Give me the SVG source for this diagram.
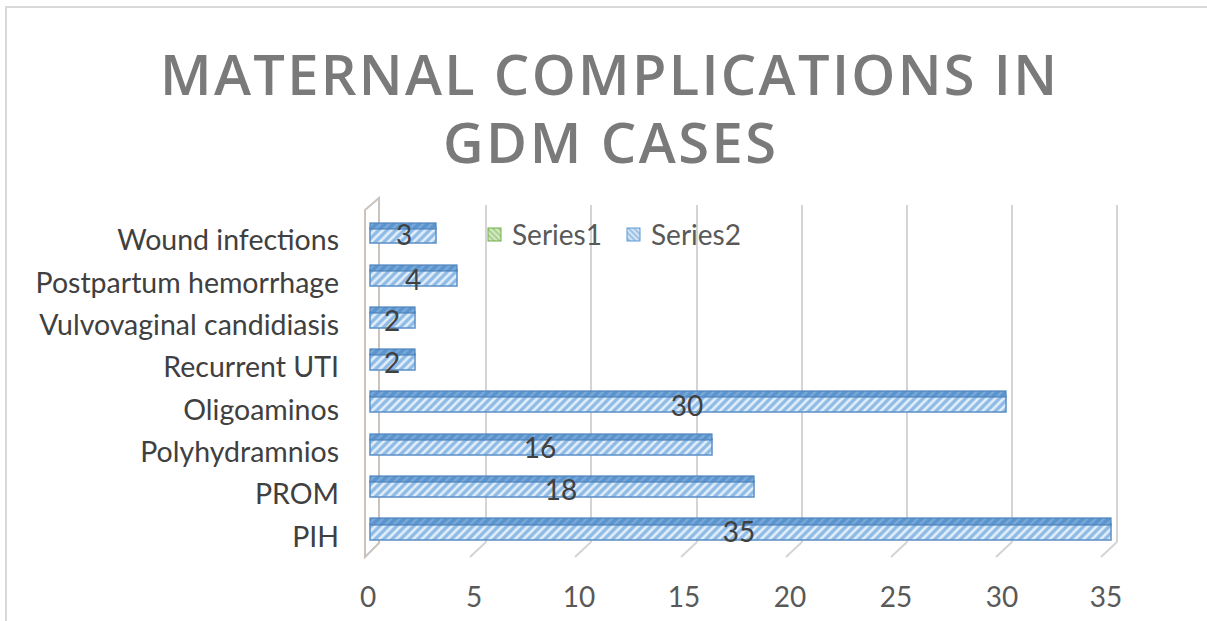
<svg xmlns="http://www.w3.org/2000/svg" width="1207" height="621" viewBox="0 0 1207 621">
<defs>
<pattern id="hatch" width="6" height="6" patternUnits="userSpaceOnUse" patternTransform="rotate(45)">
<rect width="6" height="6" fill="#8fbbe6"/>
<line x1="1.5" y1="0" x2="1.5" y2="6" stroke="#eaf3fb" stroke-width="2.4"/>
</pattern>
<pattern id="hatchTop" width="6" height="6" patternUnits="userSpaceOnUse" patternTransform="rotate(45)">
<rect width="6" height="6" fill="#5b93cc"/>
<line x1="1.5" y1="0" x2="1.5" y2="6" stroke="#7eaedc" stroke-width="2"/>
</pattern>
<pattern id="hatchG" width="4" height="4" patternUnits="userSpaceOnUse" patternTransform="rotate(-45)">
<rect width="4" height="4" fill="#a9d18e"/>
<line x1="1" y1="0" x2="1" y2="4" stroke="#e2f0d9" stroke-width="1.5"/>
</pattern>
<pattern id="hatchB" width="4" height="4" patternUnits="userSpaceOnUse" patternTransform="rotate(-45)">
<rect width="4" height="4" fill="#9dc3e6"/>
<line x1="1" y1="0" x2="1" y2="4" stroke="#e6f0fa" stroke-width="1.5"/>
</pattern>
</defs>
<style>
.title{font-family:"Open Sans","Liberation Sans",sans-serif;font-weight:600;font-size:56px;fill:#7a7a7a}
.cat{font-family:Lato,"Liberation Sans",sans-serif;font-size:28.5px;fill:#404040;text-anchor:end}
.ax{font-family:Lato,"Liberation Sans",sans-serif;font-size:28px;fill:#595959;text-anchor:middle}
.val{font-family:Lato,"Liberation Sans",sans-serif;font-size:28px;fill:#404040;text-anchor:middle}
.leg{font-family:Lato,"Liberation Sans",sans-serif;font-size:28px;fill:#595959}
.grid{stroke:#d4d4d4;stroke-width:2;fill:none}
.wall{stroke:#cbc4be;stroke-width:2;fill:none}
.bar{fill:url(#hatch);stroke:#5a8fc6;stroke-width:1.5}
.bartop{fill:url(#hatchTop);stroke:#4f84bd;stroke-width:1.2}
</style>
<rect width="1207" height="621" fill="#ffffff"/>
<path d="M6,621 V7 H1207" fill="none" stroke="#d9d9d9" stroke-width="2"/>

<g id="title">
<text class="title" x="160" y="95" textLength="897" lengthAdjust="spacing">MATERNAL COMPLICATIONS IN</text>
<text class="title" x="443" y="163" textLength="333" lengthAdjust="spacing">GDM CASES</text>
</g>

<g id="axes">
<g class="grid">
<line x1="486" y1="205" x2="486" y2="542"/>
<line x1="591" y1="205" x2="591" y2="542"/>
<line x1="697" y1="205" x2="697" y2="542"/>
<line x1="802" y1="205" x2="802" y2="542"/>
<line x1="907" y1="205" x2="907" y2="542"/>
<line x1="1012" y1="205" x2="1012" y2="542"/>
<line x1="1117" y1="205" x2="1117" y2="542"/>
<line x1="486" y1="542" x2="470" y2="557"/>
<line x1="591" y1="542" x2="575" y2="557"/>
<line x1="697" y1="542" x2="681" y2="557"/>
<line x1="802" y1="542" x2="786" y2="557"/>
<line x1="907" y1="542" x2="891" y2="557"/>
<line x1="1012" y1="542" x2="996" y2="557"/>
<line x1="1117" y1="542" x2="1101" y2="557"/>
</g>
<polygon class="wall" points="365,210 379,198 379,543 365,557"/>
<text class="ax" x="368" y="607">0</text>
<text class="ax" x="474" y="607">5</text>
<text class="ax" x="579" y="607">10</text>
<text class="ax" x="684" y="607">15</text>
<text class="ax" x="790" y="607">20</text>
<text class="ax" x="896" y="607">25</text>
<text class="ax" x="1002" y="607">30</text>
<text class="ax" x="1106" y="607">35</text>
</g>

<g id="legend">
<rect x="488" y="228" width="13" height="13" fill="url(#hatchG)" stroke="#70ad47" stroke-width="1"/>
<text class="leg" x="512" y="245">Series1</text>
<rect x="627" y="228" width="13" height="13" fill="url(#hatchB)" stroke="#5b9bd5" stroke-width="1"/>
<text class="leg" x="651" y="245">Series2</text>
</g>

<g id="wound-infections">
<text class="cat" x="339" y="250">Wound infections</text>
<rect class="bar" x="370" y="228" width="66" height="15"/>
<rect class="bartop" x="370" y="223" width="66" height="6"/>
<text class="val" x="404" y="245">3</text>
</g>
<g id="postpartum-hemorrhage">
<text class="cat" x="339" y="293">Postpartum hemorrhage</text>
<rect class="bar" x="370" y="270" width="87" height="16"/>
<rect class="bartop" x="370" y="265" width="87" height="6"/>
<text class="val" x="413" y="290">4</text>
</g>
<g id="vulvovaginal-candidiasis">
<text class="cat" x="339" y="335">Vulvovaginal candidiasis</text>
<rect class="bar" x="370" y="312" width="45" height="16"/>
<rect class="bartop" x="370" y="307" width="45" height="6"/>
<text class="val" x="392" y="331">2</text>
</g>
<g id="recurrent-uti">
<text class="cat" x="339" y="377">Recurrent UTI</text>
<rect class="bar" x="370" y="354" width="45" height="16"/>
<rect class="bartop" x="370" y="349" width="45" height="6"/>
<text class="val" x="392" y="373">2</text>
</g>
<g id="oligoaminos">
<text class="cat" x="339" y="420">Oligoaminos</text>
<rect class="bar" x="370" y="396" width="636" height="16"/>
<rect class="bartop" x="370" y="391" width="636" height="6"/>
<text class="val" x="687" y="416">30</text>
</g>
<g id="polyhydramnios">
<text class="cat" x="339" y="462">Polyhydramnios</text>
<rect class="bar" x="370" y="439" width="342" height="16"/>
<rect class="bartop" x="370" y="434" width="342" height="6"/>
<text class="val" x="540" y="458">16</text>
</g>
<g id="prom">
<text class="cat" x="339" y="504">PROM</text>
<rect class="bar" x="370" y="481" width="384" height="16"/>
<rect class="bartop" x="370" y="476" width="384" height="6"/>
<text class="val" x="561" y="500">18</text>
</g>
<g id="pih">
<text class="cat" x="339" y="547">PIH</text>
<rect class="bar" x="370" y="524" width="741" height="16"/>
<rect class="bartop" x="370" y="518" width="741" height="7"/>
<text class="val" x="739" y="542">35</text>
</g>
</svg>
